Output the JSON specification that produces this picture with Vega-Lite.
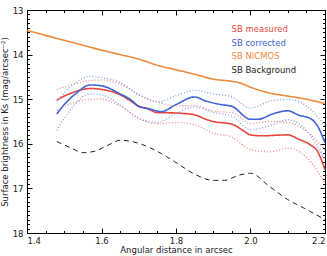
{
  "$schema": "https://vega.github.io/schema/vega-lite/v6.json",
  "width": 298,
  "height": 223,
  "autosize": "none",
  "padding": {"left": 27, "top": 10, "right": 2, "bottom": 23},
  "background": "white",
  "config": {
    "view": {"stroke": "black", "strokeWidth": 1},
    "font": "DejaVu Sans",
    "axis": {"grid": false, "domainColor": "black", "tickColor": "black", "labelColor": "#222", "labelFontSize": 8.5, "titleFontSize": 8.5, "titleFontWeight": "normal", "titleColor": "#222", "labelFont": "DejaVu Sans", "titleFont": "DejaVu Sans"}
  },
  "data": {"values": [
    {"x":1.4,"y":13.46,"s":"SB NICMOS","k":"solid"},{"x":1.45,"y":13.57,"s":"SB NICMOS","k":"solid"},{"x":1.5,"y":13.68,"s":"SB NICMOS","k":"solid"},{"x":1.55,"y":13.79,"s":"SB NICMOS","k":"solid"},{"x":1.6,"y":13.9,"s":"SB NICMOS","k":"solid"},{"x":1.65,"y":14.0,"s":"SB NICMOS","k":"solid"},{"x":1.7,"y":14.1,"s":"SB NICMOS","k":"solid"},{"x":1.75,"y":14.24,"s":"SB NICMOS","k":"solid"},{"x":1.8,"y":14.34,"s":"SB NICMOS","k":"solid"},{"x":1.85,"y":14.44,"s":"SB NICMOS","k":"solid"},{"x":1.9,"y":14.55,"s":"SB NICMOS","k":"solid"},{"x":1.95,"y":14.6,"s":"SB NICMOS","k":"solid"},{"x":1.97,"y":14.63,"s":"SB NICMOS","k":"solid"},{"x":2.0,"y":14.73,"s":"SB NICMOS","k":"solid"},{"x":2.05,"y":14.86,"s":"SB NICMOS","k":"solid"},{"x":2.1,"y":14.93,"s":"SB NICMOS","k":"solid"},{"x":2.15,"y":15.0,"s":"SB NICMOS","k":"solid"},{"x":2.2,"y":15.1,"s":"SB NICMOS","k":"solid"},

    {"x":1.48,"y":15.02,"s":"SB measured","k":"solid"},{"x":1.5,"y":14.93,"s":"SB measured","k":"solid"},{"x":1.53,"y":14.83,"s":"SB measured","k":"solid"},{"x":1.57,"y":14.76,"s":"SB measured","k":"solid"},{"x":1.6,"y":14.78,"s":"SB measured","k":"solid"},{"x":1.65,"y":14.9,"s":"SB measured","k":"solid"},{"x":1.68,"y":15.05,"s":"SB measured","k":"solid"},{"x":1.7,"y":15.16,"s":"SB measured","k":"solid"},{"x":1.72,"y":15.2,"s":"SB measured","k":"solid"},{"x":1.75,"y":15.3,"s":"SB measured","k":"solid"},{"x":1.8,"y":15.31,"s":"SB measured","k":"solid"},{"x":1.85,"y":15.35,"s":"SB measured","k":"solid"},{"x":1.88,"y":15.45,"s":"SB measured","k":"solid"},{"x":1.9,"y":15.5,"s":"SB measured","k":"solid"},{"x":1.95,"y":15.56,"s":"SB measured","k":"solid"},{"x":1.98,"y":15.7,"s":"SB measured","k":"solid"},{"x":2.0,"y":15.8,"s":"SB measured","k":"solid"},{"x":2.03,"y":15.82,"s":"SB measured","k":"solid"},{"x":2.1,"y":15.8,"s":"SB measured","k":"solid"},{"x":2.13,"y":15.9,"s":"SB measured","k":"solid"},{"x":2.16,"y":16.02,"s":"SB measured","k":"solid"},{"x":2.18,"y":16.17,"s":"SB measured","k":"solid"},{"x":2.2,"y":16.58,"s":"SB measured","k":"solid"},

    {"x":1.48,"y":15.33,"s":"SB corrected","k":"solid"},{"x":1.5,"y":15.12,"s":"SB corrected","k":"solid"},{"x":1.53,"y":14.88,"s":"SB corrected","k":"solid"},{"x":1.57,"y":14.68,"s":"SB corrected","k":"solid"},{"x":1.6,"y":14.7,"s":"SB corrected","k":"solid"},{"x":1.65,"y":14.88,"s":"SB corrected","k":"solid"},{"x":1.68,"y":15.02,"s":"SB corrected","k":"solid"},{"x":1.7,"y":15.16,"s":"SB corrected","k":"solid"},{"x":1.73,"y":15.22,"s":"SB corrected","k":"solid"},{"x":1.76,"y":15.28,"s":"SB corrected","k":"solid"},{"x":1.8,"y":15.12,"s":"SB corrected","k":"solid"},{"x":1.85,"y":14.95,"s":"SB corrected","k":"solid"},{"x":1.88,"y":15.04,"s":"SB corrected","k":"solid"},{"x":1.92,"y":15.12,"s":"SB corrected","k":"solid"},{"x":1.95,"y":15.16,"s":"SB corrected","k":"solid"},{"x":2.0,"y":15.45,"s":"SB corrected","k":"solid"},{"x":2.02,"y":15.45,"s":"SB corrected","k":"solid"},{"x":2.06,"y":15.33,"s":"SB corrected","k":"solid"},{"x":2.1,"y":15.26,"s":"SB corrected","k":"solid"},{"x":2.13,"y":15.36,"s":"SB corrected","k":"solid"},{"x":2.16,"y":15.43,"s":"SB corrected","k":"solid"},{"x":2.18,"y":15.6,"s":"SB corrected","k":"solid"},{"x":2.2,"y":15.98,"s":"SB corrected","k":"solid"},

    {"x":1.48,"y":14.78,"s":"meas hi","k":"dotted"},{"x":1.52,"y":14.68,"s":"meas hi","k":"dotted"},{"x":1.57,"y":14.58,"s":"meas hi","k":"dotted"},{"x":1.6,"y":14.57,"s":"meas hi","k":"dotted"},{"x":1.65,"y":14.66,"s":"meas hi","k":"dotted"},{"x":1.7,"y":14.9,"s":"meas hi","k":"dotted"},{"x":1.75,"y":15.06,"s":"meas hi","k":"dotted"},{"x":1.8,"y":15.15,"s":"meas hi","k":"dotted"},{"x":1.85,"y":15.14,"s":"meas hi","k":"dotted"},{"x":1.9,"y":15.27,"s":"meas hi","k":"dotted"},{"x":1.95,"y":15.3,"s":"meas hi","k":"dotted"},{"x":2.0,"y":15.54,"s":"meas hi","k":"dotted"},{"x":2.05,"y":15.5,"s":"meas hi","k":"dotted"},{"x":2.1,"y":15.52,"s":"meas hi","k":"dotted"},{"x":2.15,"y":15.72,"s":"meas hi","k":"dotted"},{"x":2.2,"y":16.13,"s":"meas hi","k":"dotted"},

    {"x":1.48,"y":15.25,"s":"meas lo","k":"dotted"},{"x":1.52,"y":15.1,"s":"meas lo","k":"dotted"},{"x":1.57,"y":15.0,"s":"meas lo","k":"dotted"},{"x":1.6,"y":15.0,"s":"meas lo","k":"dotted"},{"x":1.65,"y":15.15,"s":"meas lo","k":"dotted"},{"x":1.7,"y":15.43,"s":"meas lo","k":"dotted"},{"x":1.75,"y":15.55,"s":"meas lo","k":"dotted"},{"x":1.8,"y":15.52,"s":"meas lo","k":"dotted"},{"x":1.85,"y":15.57,"s":"meas lo","k":"dotted"},{"x":1.9,"y":15.76,"s":"meas lo","k":"dotted"},{"x":1.95,"y":15.85,"s":"meas lo","k":"dotted"},{"x":2.0,"y":16.13,"s":"meas lo","k":"dotted"},{"x":2.05,"y":16.18,"s":"meas lo","k":"dotted"},{"x":2.1,"y":16.1,"s":"meas lo","k":"dotted"},{"x":2.15,"y":16.3,"s":"meas lo","k":"dotted"},{"x":2.2,"y":16.88,"s":"meas lo","k":"dotted"},

    {"x":1.48,"y":15.05,"s":"corr hi","k":"dotted"},{"x":1.52,"y":14.7,"s":"corr hi","k":"dotted"},{"x":1.57,"y":14.49,"s":"corr hi","k":"dotted"},{"x":1.6,"y":14.52,"s":"corr hi","k":"dotted"},{"x":1.65,"y":14.62,"s":"corr hi","k":"dotted"},{"x":1.7,"y":14.9,"s":"corr hi","k":"dotted"},{"x":1.75,"y":15.06,"s":"corr hi","k":"dotted"},{"x":1.8,"y":14.92,"s":"corr hi","k":"dotted"},{"x":1.85,"y":14.8,"s":"corr hi","k":"dotted"},{"x":1.9,"y":14.88,"s":"corr hi","k":"dotted"},{"x":1.95,"y":14.95,"s":"corr hi","k":"dotted"},{"x":2.0,"y":15.2,"s":"corr hi","k":"dotted"},{"x":2.05,"y":15.05,"s":"corr hi","k":"dotted"},{"x":2.1,"y":15.0,"s":"corr hi","k":"dotted"},{"x":2.15,"y":15.15,"s":"corr hi","k":"dotted"},{"x":2.2,"y":15.6,"s":"corr hi","k":"dotted"},

    {"x":1.48,"y":15.7,"s":"corr lo","k":"dotted"},{"x":1.52,"y":15.2,"s":"corr lo","k":"dotted"},{"x":1.57,"y":14.88,"s":"corr lo","k":"dotted"},{"x":1.6,"y":14.9,"s":"corr lo","k":"dotted"},{"x":1.65,"y":15.13,"s":"corr lo","k":"dotted"},{"x":1.7,"y":15.43,"s":"corr lo","k":"dotted"},{"x":1.75,"y":15.52,"s":"corr lo","k":"dotted"},{"x":1.8,"y":15.32,"s":"corr lo","k":"dotted"},{"x":1.85,"y":15.17,"s":"corr lo","k":"dotted"},{"x":1.9,"y":15.3,"s":"corr lo","k":"dotted"},{"x":1.95,"y":15.38,"s":"corr lo","k":"dotted"},{"x":2.0,"y":15.68,"s":"corr lo","k":"dotted"},{"x":2.05,"y":15.6,"s":"corr lo","k":"dotted"},{"x":2.1,"y":15.46,"s":"corr lo","k":"dotted"},{"x":2.15,"y":15.7,"s":"corr lo","k":"dotted"},{"x":2.2,"y":16.36,"s":"corr lo","k":"dotted"},

    {"x":1.48,"y":15.95,"s":"SB Background","k":"dashed"},{"x":1.52,"y":16.1,"s":"SB Background","k":"dashed"},{"x":1.55,"y":16.2,"s":"SB Background","k":"dashed"},{"x":1.58,"y":16.17,"s":"SB Background","k":"dashed"},{"x":1.62,"y":16.02,"s":"SB Background","k":"dashed"},{"x":1.65,"y":15.92,"s":"SB Background","k":"dashed"},{"x":1.7,"y":15.99,"s":"SB Background","k":"dashed"},{"x":1.75,"y":16.17,"s":"SB Background","k":"dashed"},{"x":1.8,"y":16.42,"s":"SB Background","k":"dashed"},{"x":1.85,"y":16.68,"s":"SB Background","k":"dashed"},{"x":1.9,"y":16.82,"s":"SB Background","k":"dashed"},{"x":1.93,"y":16.82,"s":"SB Background","k":"dashed"},{"x":1.97,"y":16.7,"s":"SB Background","k":"dashed"},{"x":2.0,"y":16.66,"s":"SB Background","k":"dashed"},{"x":2.05,"y":16.95,"s":"SB Background","k":"dashed"},{"x":2.1,"y":17.25,"s":"SB Background","k":"dashed"},{"x":2.15,"y":17.47,"s":"SB Background","k":"dashed"},{"x":2.2,"y":17.7,"s":"SB Background","k":"dashed"}
  ]},
  "resolve": {"axis": {"x": "independent", "y": "independent"}},
  "layer": [
    {
      "mark": {"type": "line", "interpolate": "monotone"},
      "encoding": {
        "x": {"field": "x", "type": "quantitative", "scale": {"domain": [1.4, 2.2], "nice": false, "zero": false},
              "axis": {"orient": "bottom", "title": "Angular distance in arcsec", "values": [1.4, 1.6, 1.8, 2.0, 2.2], "format": ".1f", "tickSize": -5, "labelPadding": 8, "titlePadding": 1, "domain": true}},
        "y": {"field": "y", "type": "quantitative", "scale": {"domain": [13, 18], "reverse": true, "nice": false, "zero": false},
              "axis": {"orient": "left", "title": "Surface brightness in Ks (mag/arcsec⁻²)", "values": [13, 14, 15, 16, 17, 18], "format": "d", "tickSize": -5, "labelPadding": 9, "titlePadding": 3}},
        "color": {"field": "s", "type": "nominal",
                  "scale": {"domain": ["SB measured", "SB corrected", "SB NICMOS", "SB Background", "meas hi", "meas lo", "corr hi", "corr lo"],
                            "range": ["#e8453c", "#3d63d8", "#f08a3c", "#222222", "#f08080", "#f08080", "#7f9cec", "#7f9cec"]},
                  "legend": {"values": ["SB measured", "SB corrected", "SB NICMOS", "SB Background"], "orient": "none", "legendX": 196, "legendY": 15, "title": null,
                             "symbolSize": 0, "symbolOpacity": 0, "symbolStrokeWidth": 0, "labelOffset": 0, "labelFontSize": 8.5, "labelFont": "DejaVu Sans", "rowPadding": 4.5,
                             "encode": {"labels": {"update": {"fill": {"scale": "color", "field": "value"}}}}}},
        "detail": {"field": "s"},
        "strokeDash": {"field": "k", "type": "nominal", "scale": {"domain": ["solid", "dotted", "dashed"], "range": [[1, 0], [1, 2], [5, 4]]}, "legend": null},
        "strokeWidth": {"field": "k", "type": "nominal", "scale": {"domain": ["solid", "dotted", "dashed"], "range": [1.6, 1, 1.2]}, "legend": null}
      }
    },
    {
      "mark": {"type": "point", "opacity": 0},
      "encoding": {
        "x": {"field": "x", "type": "quantitative", "axis": {"orient": "bottom", "title": null, "labels": false, "domain": false, "tickSize": -2.5,
              "values": [1.45, 1.5, 1.55, 1.65, 1.7, 1.75, 1.85, 1.9, 1.95, 2.05, 2.1, 2.15]}},
        "y": {"field": "y", "type": "quantitative", "axis": {"orient": "left", "title": null, "labels": false, "domain": false, "tickSize": -2.5,
              "values": [13.1,13.2,13.3,13.4,13.5,13.6,13.7,13.8,13.9,14.1,14.2,14.3,14.4,14.5,14.6,14.7,14.8,14.9,15.1,15.2,15.3,15.4,15.5,15.6,15.7,15.8,15.9,16.1,16.2,16.3,16.4,16.5,16.6,16.7,16.8,16.9,17.1,17.2,17.3,17.4,17.5,17.6,17.7,17.8,17.9]}}
      }
    },
    {
      "mark": {"type": "point", "opacity": 0},
      "encoding": {
        "x": {"field": "x", "type": "quantitative", "axis": {"orient": "top", "title": null, "labels": false, "tickSize": -5, "values": [1.4, 1.6, 1.8, 2.0, 2.2]}},
        "y": {"field": "y", "type": "quantitative", "axis": {"orient": "right", "title": null, "labels": false, "tickSize": -5, "values": [13, 14, 15, 16, 17, 18]}}
      }
    },
    {
      "mark": {"type": "point", "opacity": 0},
      "encoding": {
        "x": {"field": "x", "type": "quantitative", "axis": {"orient": "top", "title": null, "labels": false, "domain": false, "tickSize": -2.5,
              "values": [1.45, 1.5, 1.55, 1.65, 1.7, 1.75, 1.85, 1.9, 1.95, 2.05, 2.1, 2.15]}},
        "y": {"field": "y", "type": "quantitative", "axis": {"orient": "right", "title": null, "labels": false, "domain": false, "tickSize": -2.5,
              "values": [13.1,13.2,13.3,13.4,13.5,13.6,13.7,13.8,13.9,14.1,14.2,14.3,14.4,14.5,14.6,14.7,14.8,14.9,15.1,15.2,15.3,15.4,15.5,15.6,15.7,15.8,15.9,16.1,16.2,16.3,16.4,16.5,16.6,16.7,16.8,16.9,17.1,17.2,17.3,17.4,17.5,17.6,17.7,17.8,17.9]}}
      }
    }
  ]
}
